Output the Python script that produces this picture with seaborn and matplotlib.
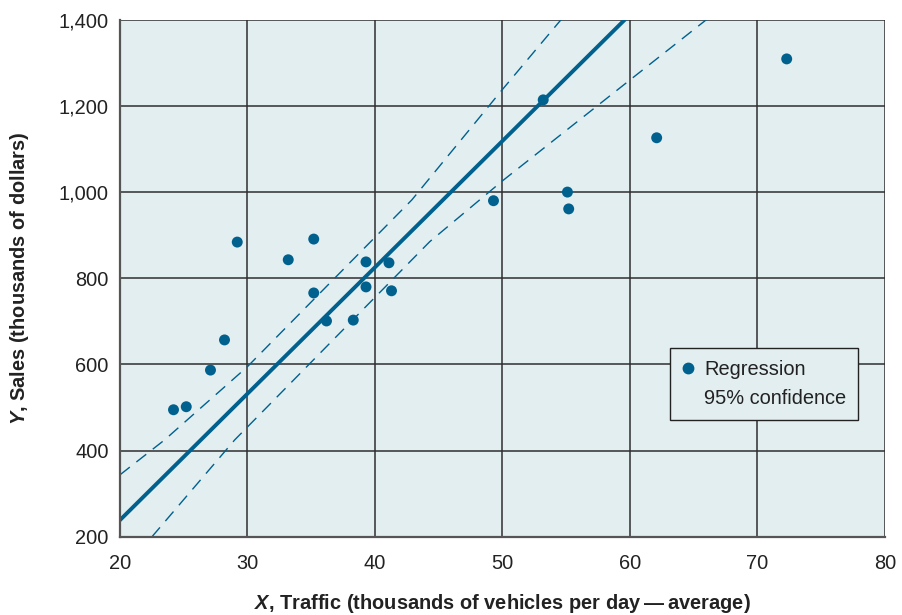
# scatter of sales against traffic with a fitted regression line and
# 95% confidence limits drawn as dashed curves.

import pandas as pd
import seaborn as sns
import matplotlib.pyplot as plt
from matplotlib.lines import Line2D

#----------------------------------------------------------------------------#

# observed stores (traffic in thousands of vehicles/day, sales in $1000s)
traffic = [24.2, 25.2, 27.1, 28.2, 29.2, 33.2, 35.2, 35.2, 36.2, 38.3,
           39.3, 39.3, 41.1, 41.3, 49.3, 53.2, 55.1, 55.2, 62.1, 72.3]
sales = [495, 502, 587, 657, 884, 843, 891, 766, 701, 703,
         838, 780, 836, 771, 980, 1214, 1000, 961, 1126, 1309]

# fitted line
fit_x = [20, 59.6]
fit_y = [239, 1400]

# 95% confidence limits
upper_x = [20, 23.5, 30, 42.9, 50, 54.6]
upper_y = [344, 425, 595, 982, 1238, 1400]
lower_x = [22.5, 29.0, 44.3, 50, 60, 66.0]
lower_y = [200, 425, 885, 1026, 1260, 1400]

x_ticks = [20, 30, 40, 50, 60, 70, 80]
y_ticks = [200, 400, 600, 800, 1000, 1200, 1400]

#----------------------------------------------------------------------------#

blue = "#00608e"
fs = 14.4

sns.set_style("whitegrid", {"axes.facecolor": "#e2eeef",
                            "grid.color": "#2e2e2e",
                            "axes.edgecolor": "#555555"})
plt.rcParams['font.family'] = ['Liberation Sans', 'DejaVu Sans']
plt.rcParams['mathtext.fontset'] = 'custom'
plt.rcParams['mathtext.bf'] = 'Liberation Sans:italic:bold'

fig, ax = plt.subplots(figsize=(9.02, 6.15), dpi=100)
fig.subplots_adjust(left=0.133, right=0.981, bottom=0.127, top=0.968)

sns.lineplot(x=upper_x, y=upper_y, ax=ax, color=blue, lw=1.0,
             linestyle=(0, (9, 6)))
sns.lineplot(x=lower_x, y=lower_y, ax=ax, color=blue, lw=1.0,
             linestyle=(0, (9, 6)))
sns.lineplot(x=fit_x, y=fit_y, ax=ax, color=blue, lw=2.8)
sns.scatterplot(x=traffic, y=sales, ax=ax, color=blue, s=62,
                edgecolor="none", zorder=5)

ax.set_xlim(20, 80)
ax.set_ylim(200, 1400)
ax.set_xticks(x_ticks)
ax.set_yticks(y_ticks)
ax.set_yticklabels([f"{v:,}" for v in y_ticks])
ax.tick_params(length=0, labelsize=fs, colors="#222222")
ax.tick_params(axis="x", pad=12)
ax.tick_params(axis="y", pad=8)
ax.grid(True, lw=1.1)

for side in ["top", "right"]:
    ax.spines[side].set_visible(False)
for side in ["left", "bottom"]:
    ax.spines[side].set_linewidth(1.6)

ax.set_xlabel(r"$\mathbf{X}$, Traffic (thousands of vehicles per day" +
              "\u2009\u2014\u2009average)", fontsize=fs,
              fontweight="bold", labelpad=14, color="#222222")
ax.set_ylabel(r"$\mathbf{Y}$, Sales (thousands of dollars)", fontsize=fs,
              fontweight="bold", labelpad=20, color="#222222")

# legend: a dot for the regression entry and a bare text line below it
handles = [Line2D([], [], marker="o", color=blue, linestyle="none",
                  markersize=7.5),
           Line2D([], [], linestyle="none")]
leg = ax.legend(handles, ["Regression", "95% confidence"],
                loc="upper left", bbox_to_anchor=(0.719, 0.365),
                borderaxespad=0, fontsize=fs, frameon=True, fancybox=False,
                framealpha=1, edgecolor="#222222", handlelength=0.6,
                handletextpad=0.5, labelspacing=0.5, borderpad=0.6)
leg.get_frame().set_linewidth(1.0)
for t in leg.get_texts():
    t.set_color("#222222")

plt.savefig("out.png", dpi=100)
